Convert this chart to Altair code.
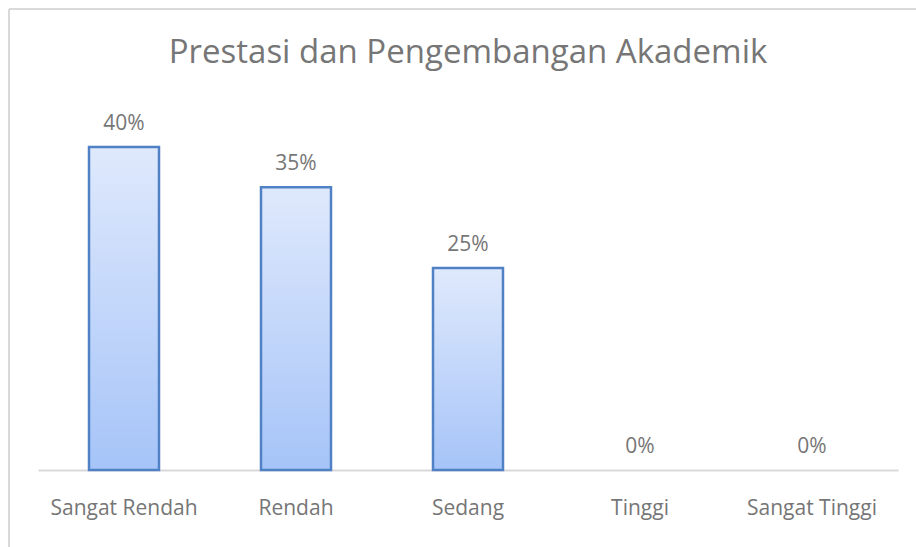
import altair as alt
import pandas as pd

categories = ["Sangat Rendah", "Rendah", "Sedang", "Tinggi", "Sangat Tinggi"]
values = [40, 35, 25, 0, 0]
labels = ["40%", "35%", "25%", "0%", "0%"]
title_text = ["Prestasi dan Pengembangan Akademik"]

df = pd.DataFrame({"cat": categories, "val": values, "lab": labels})

W, H = 860, 370
FONT = "Open Sans"
GRAY = "#767676"

x = alt.X("cat:N", sort=categories, title=None,
          scale=alt.Scale(paddingInner=0.593, paddingOuter=0.2965),
          axis=alt.Axis(labelAngle=0, labelFontSize=21, labelColor=GRAY, labelFont=FONT,
                        labelPadding=27, ticks=False, domainColor="#d9d9d9", domainWidth=2))
y = alt.Y("val:Q", title=None, scale=alt.Scale(domain=[0, 45.82], nice=False),
          axis=None)

bars = alt.Chart(df).mark_bar(
    stroke="#4f81c4", strokeWidth=2.5,
    color=alt.Gradient(gradient="linear", x1=0, y1=0, x2=0, y2=1,
                       stops=[alt.GradientStop(color="#dfe9fc", offset=0),
                              alt.GradientStop(color="#a6c4f8", offset=1)])
).transform_filter("datum.val > 0").encode(x=x, y=y)

text = alt.Chart(df).mark_text(dy=-23, baseline="middle", fontSize=21, color=GRAY, font=FONT).encode(
    x=x, y=y, text="lab:N")

title = alt.Chart(pd.DataFrame({"t": title_text})).mark_text(
    baseline="alphabetic", align="center", fontSize=33, color=GRAY, font=FONT
).encode(x=alt.value(430), y=alt.value(-37), text="t:N")

frame_left = alt.Chart(df).mark_rule(color="#d9d9d9", strokeWidth=2).encode(
    x=alt.value(-29), y=alt.value(-91), y2=alt.value(460))
frame_top = alt.Chart(df).mark_rule(color="#d9d9d9", strokeWidth=2).encode(
    x=alt.value(-29), x2=alt.value(890), y=alt.value(-91))

chart = alt.layer(frame_left, frame_top, bars, text, title).properties(
    width=W, height=H,
    autosize=alt.AutoSizeParams(type="none"),
    padding={"left": 38, "top": 100, "right": 18, "bottom": 77},
).configure_view(stroke=None)

chart.save("out.html", embed_options={"renderer": "svg", "actions": False})
